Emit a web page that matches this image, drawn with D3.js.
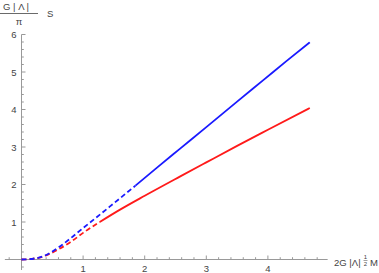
<!DOCTYPE html>
<html>
<head>
<meta charset="utf-8">
<script src="https://cdn.jsdelivr.net/npm/d3@7"></script>
<style>
  body { margin: 0; background: #fff; }
  svg { display: block; }
  .lbl { font-family: "Liberation Sans", Arial, sans-serif; font-size: 9.5px; fill: #444; }
</style>
</head>
<body>
<svg id="chart" width="379" height="273"></svg>
<script>
// values
var blueX = [0, 0.2, 0.4, 0.6, 0.8, 1.0, 1.2, 1.5, 1.85, 2.2, 2.57, 3.0, 3.5, 3.93, 4.3, 4.68];
var blueY = [0, 0.02, 0.12, 0.32, 0.57, 0.84, 1.1, 1.5, 1.97, 2.45, 2.95, 3.53, 4.21, 4.79, 5.29, 5.79];
var blueDashEnd = 1.85;

var redX = [0, 0.2, 0.4, 0.6, 0.8, 1.0, 1.27, 1.6, 2.0, 2.57, 3.0, 3.5, 4.0, 4.68];
var redY = [0, 0.02, 0.11, 0.27, 0.47, 0.71, 1.0, 1.33, 1.7, 2.21, 2.59, 3.03, 3.46, 4.04];
var redDashEnd = 1.27;

var xTicks = [1, 2, 3, 4];
var yTicks = [1, 2, 3, 4, 5, 6];

var svg = d3.select("#chart");

var x = d3.scaleLinear().domain([0, 1]).range([21.5, 83.1]);
var y = d3.scaleLinear().domain([0, 1]).range([259.5, 222]);

var xMin = -0.27, xMax = 4.97, yMin = -0.28, yMax = 6;

function minors(lo, hi) {
  var out = [];
  for (var i = Math.ceil(lo * 5); i <= Math.floor(hi * 5); i++) {
    if (i % 5 != 0) out.push(i / 5);
  }
  return out;
}

var axisCol = "#999";

// x axis
var gx = svg.append("g").attr("transform", "translate(0," + y(0) + ")");
gx.append("line").attr("x1", x(xMin)).attr("x2", x(xMax)).attr("stroke", axisCol);
gx.selectAll(".mj").data(xTicks).enter().append("line")
  .attr("x1", d => x(d)).attr("x2", d => x(d)).attr("y1", 0).attr("y2", -4).attr("stroke", axisCol);
gx.selectAll(".mn").data(minors(-0.2, 4.8)).enter().append("line")
  .attr("x1", d => x(d)).attr("x2", d => x(d)).attr("y1", 0).attr("y2", -2.3).attr("stroke", axisCol);
gx.selectAll("text").data(xTicks).enter().append("text")
  .attr("class", "lbl").attr("x", d => x(d)).attr("y", 12).attr("text-anchor", "middle").text(d => d);

// y axis
var gy = svg.append("g").attr("transform", "translate(" + x(0) + ",0)");
gy.append("line").attr("y1", y(yMin)).attr("y2", y(yMax)).attr("stroke", axisCol);
gy.selectAll(".mj").data(yTicks).enter().append("line")
  .attr("y1", d => y(d)).attr("y2", d => y(d)).attr("x1", 0).attr("x2", 4).attr("stroke", axisCol);
gy.selectAll(".mn").data(minors(-0.2, 5.9)).enter().append("line")
  .attr("y1", d => y(d)).attr("y2", d => y(d)).attr("x1", 0).attr("x2", 2.3).attr("stroke", axisCol);
gy.selectAll("text").data(yTicks).enter().append("text")
  .attr("class", "lbl").attr("x", -5).attr("y", d => y(d) + 3.5).attr("text-anchor", "end").text(d => d);

// curves
var line = d3.line().x(d => x(d[0])).y(d => y(d[1])).curve(d3.curveMonotoneX);

function drawSeries(xs, ys, cut, col) {
  var pts = xs.map((v, i) => [v, ys[i]]);
  var dashed = pts.filter(p => p[0] <= cut);
  var solid = pts.filter(p => p[0] >= cut);
  svg.append("path").attr("d", line(dashed)).attr("fill", "none").attr("stroke", col)
    .attr("stroke-width", 1.8).attr("stroke-dasharray", "5,3");
  svg.append("path").attr("d", line(solid)).attr("fill", "none").attr("stroke", col)
    .attr("stroke-width", 1.8);
}
drawSeries(redX, redY, redDashEnd, "#ff1a1a");
drawSeries(blueX, blueY, blueDashEnd, "#1a1aff");

// y label: G|Λ| / π  S
var yl = svg.append("g");
yl.append("text").attr("class", "lbl").attr("x", 3).attr("y", 10).text("G | Λ |");
yl.append("line").attr("x1", 0).attr("x2", 38).attr("y1", 13.5).attr("y2", 13.5).attr("stroke", "#444").attr("stroke-width", 0.8);
yl.append("text").attr("class", "lbl").attr("x", 19).attr("y", 25).attr("text-anchor", "middle").text("π");
yl.append("text").attr("class", "lbl").attr("x", 47).attr("y", 17).text("S");

// x label: 2G |Λ|^(1/2) M
var xl = svg.append("g");
xl.append("text").attr("class", "lbl").attr("x", 334).attr("y", 266).text("2G |Λ|");
xl.append("text").attr("class", "lbl").attr("x", 365.5).attr("y", 259).attr("text-anchor", "middle").style("font-size", "6px").text("1");
xl.append("line").attr("x1", 363.5).attr("x2", 367.5).attr("y1", 260.5).attr("y2", 260.5).attr("stroke", "#444").attr("stroke-width", 0.5);
xl.append("text").attr("class", "lbl").attr("x", 365.5).attr("y", 266).attr("text-anchor", "middle").style("font-size", "6px").text("2");
xl.append("text").attr("class", "lbl").attr("x", 370).attr("y", 266).text("M");
</script>
</body>
</html>
